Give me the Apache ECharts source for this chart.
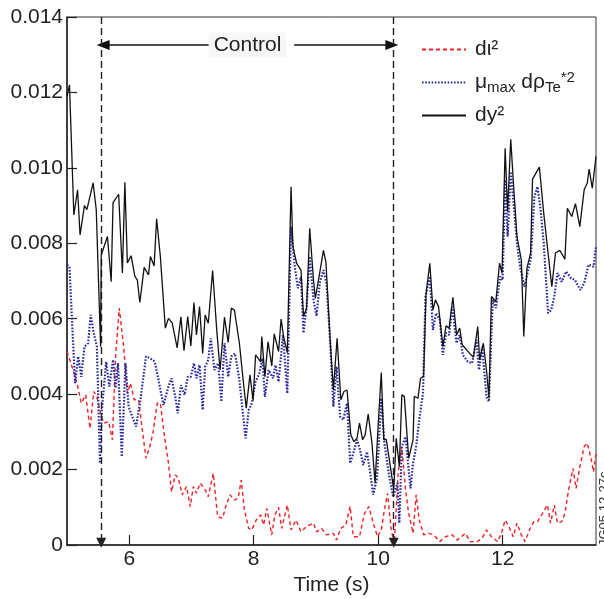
<!DOCTYPE html>
<html><head><meta charset="utf-8">
<script src="https://cdn.jsdelivr.net/npm/echarts@6/dist/echarts.min.js"></script>
<style>html,body{margin:0;padding:0;background:#fff}#c{width:604px;height:599px}</style>
</head><body><div id="c"></div>
<script>
// ---- data ----
const xTicks = [6, 8, 10, 12];
const yTicks = [0, 0.002, 0.004, 0.006, 0.008, 0.010, 0.012, 0.014];
const controlStart = 5.55, controlEnd = 10.25;
const controlLabel = 'Control';
const controlY = 0.01326;

const dyT = [5.00,5.04,5.11,5.17,5.21,5.28,5.32,5.42,5.47,5.54,5.55,5.65,5.71,5.74,5.83,5.89,5.93,5.97,6.03,6.09,6.13,6.17,6.24,6.31,6.34,6.40,6.44,6.50,6.58,6.63,6.69,6.77,6.83,6.88,6.94,6.99,7.04,7.08,7.13,7.18,7.22,7.27,7.34,7.41,7.46,7.53,7.59,7.64,7.69,7.77,7.83,7.88,7.94,7.99,8.03,8.11,8.13,8.18,8.23,8.29,8.33,8.40,8.44,8.48,8.54,8.60,8.63,8.69,8.76,8.80,8.85,8.90,8.96,8.99,9.06,9.12,9.16,9.23,9.28,9.34,9.40,9.45,9.50,9.56,9.61,9.66,9.70,9.75,9.79,9.84,9.90,9.95,10.00,10.05,10.09,10.13,10.20,10.25,10.29,10.34,10.38,10.42,10.49,10.56,10.58,10.64,10.68,10.73,10.77,10.83,10.88,10.92,10.97,11.04,11.09,11.14,11.20,11.26,11.31,11.35,11.47,11.53,11.60,11.63,11.69,11.74,11.78,11.82,11.89,11.95,11.99,12.04,12.08,12.13,12.18,12.23,12.30,12.34,12.39,12.45,12.48,12.59,12.66,12.73,12.79,12.85,12.92,13.00,13.04,13.11,13.17,13.24,13.31,13.36,13.39,13.44,13.50];
const dyV = [0.0119,0.0122,0.00875,0.00942,0.00822,0.0090,0.00889,0.0096,0.00889,0.00526,0.00769,0.00818,0.00698,0.00908,0.0093,0.00721,0.00962,0.00748,0.00767,0.00712,0.00703,0.00643,0.00736,0.00716,0.00765,0.0074,0.00865,0.00765,0.00575,0.00601,0.00589,0.00523,0.00605,0.00515,0.00606,0.00528,0.00643,0.00557,0.00632,0.00508,0.0061,0.00588,0.00728,0.00561,0.00464,0.00604,0.00537,0.00628,0.00623,0.00535,0.00438,0.00363,0.00451,0.00383,0.00504,0.00486,0.00553,0.00446,0.00539,0.00475,0.0056,0.00513,0.00599,0.00553,0.0051,0.0095,0.00791,0.00747,0.00729,0.00606,0.00628,0.0084,0.00703,0.00654,0.00721,0.00781,0.00751,0.00539,0.00411,0.00548,0.00385,0.00407,0.00411,0.00292,0.00274,0.00283,0.00323,0.00279,0.00292,0.00347,0.0027,0.00164,0.00318,0.00457,0.00279,0.0028,0.00203,0.00146,0.00283,0.00208,0.00398,0.00394,0.0023,0.00279,0.00394,0.00389,0.00442,0.00447,0.00668,0.00747,0.00623,0.0065,0.00632,0.00526,0.00581,0.00575,0.00657,0.00557,0.00575,0.00531,0.00508,0.00498,0.00579,0.00491,0.00535,0.00464,0.00389,0.00659,0.00645,0.00747,0.00721,0.01052,0.00884,0.01076,0.00942,0.00818,0.00756,0.00553,0.00734,0.00774,0.0097,0.01002,0.0088,0.00774,0.00685,0.00775,0.00781,0.00758,0.00893,0.00871,0.00905,0.00844,0.00942,0.0096,0.00997,0.00946,0.0103];

const rhoT = [5.00,5.04,5.08,5.13,5.18,5.23,5.28,5.34,5.38,5.43,5.48,5.53,5.56,5.63,5.68,5.74,5.78,5.82,5.88,5.94,5.99,6.05,6.11,6.18,6.27,6.34,6.41,6.47,6.55,6.63,6.68,6.74,6.78,6.83,6.89,6.94,6.99,7.04,7.08,7.13,7.18,7.22,7.27,7.31,7.37,7.43,7.48,7.53,7.59,7.64,7.70,7.77,7.82,7.87,7.92,7.97,8.03,8.09,8.14,8.18,8.24,8.31,8.35,8.40,8.47,8.54,8.60,8.66,8.71,8.76,8.80,8.85,8.90,8.96,9.01,9.06,9.12,9.17,9.23,9.28,9.33,9.39,9.44,9.50,9.55,9.60,9.66,9.71,9.76,9.82,9.87,9.92,9.98,10.05,10.10,10.17,10.24,10.31,10.34,10.38,10.44,10.48,10.52,10.56,10.61,10.66,10.72,10.76,10.83,10.88,10.93,10.99,11.04,11.09,11.14,11.19,11.26,11.31,11.36,11.44,11.51,11.58,11.62,11.67,11.74,11.78,11.84,11.89,11.96,12.00,12.04,12.08,12.13,12.18,12.23,12.28,12.35,12.40,12.45,12.51,12.56,12.61,12.66,12.73,12.78,12.83,12.88,12.95,13.02,13.10,13.16,13.25,13.31,13.38,13.46,13.50];
const rhoV = [0.00743,0.00738,0.00597,0.00429,0.005,0.00446,0.00526,0.00535,0.0061,0.00562,0.00526,0.00217,0.00358,0.00486,0.0042,0.00491,0.00416,0.00482,0.00234,0.00482,0.00367,0.0034,0.00314,0.00385,0.005,0.00495,0.00486,0.00438,0.00371,0.0042,0.00442,0.00393,0.00349,0.00424,0.00398,0.00446,0.00446,0.00482,0.00442,0.00477,0.00358,0.00473,0.00491,0.00548,0.00464,0.00482,0.0038,0.00535,0.00446,0.005,0.00508,0.00438,0.00358,0.00283,0.00358,0.00376,0.00433,0.00455,0.00495,0.00393,0.00464,0.00442,0.00477,0.00433,0.00557,0.00402,0.00844,0.00738,0.00681,0.00712,0.00562,0.00632,0.00765,0.0065,0.00607,0.00694,0.00729,0.00694,0.00535,0.00367,0.00473,0.0034,0.00332,0.00376,0.00217,0.00243,0.00279,0.00252,0.00212,0.00247,0.00194,0.00133,0.00177,0.00389,0.0027,0.0019,0.00128,0.00164,0.00058,0.00261,0.00287,0.00217,0.0015,0.00217,0.00261,0.00332,0.00402,0.00659,0.00712,0.0057,0.00615,0.00597,0.00504,0.00562,0.00557,0.00632,0.00535,0.00557,0.00504,0.00486,0.00482,0.00544,0.00464,0.00526,0.00393,0.0038,0.0065,0.00628,0.00712,0.00703,0.00968,0.00818,0.0099,0.00897,0.008,0.00738,0.00685,0.00721,0.00756,0.00924,0.0095,0.00889,0.008,0.00615,0.00623,0.00659,0.00721,0.00698,0.00725,0.00707,0.00703,0.00676,0.00694,0.00743,0.00738,0.00791];

const iotaT = [5.00,5.08,5.16,5.23,5.30,5.37,5.43,5.48,5.54,5.59,5.67,5.73,5.78,5.84,5.91,5.97,6.02,6.08,6.15,6.21,6.27,6.33,6.38,6.45,6.50,6.56,6.63,6.68,6.74,6.79,6.85,6.92,6.98,7.03,7.08,7.14,7.21,7.27,7.35,7.42,7.50,7.55,7.62,7.69,7.75,7.80,7.85,7.92,7.97,8.04,8.11,8.16,8.21,8.29,8.34,8.40,8.45,8.54,8.60,8.68,8.76,8.85,8.96,9.01,9.09,9.17,9.28,9.33,9.40,9.48,9.55,9.60,9.70,9.78,9.85,9.92,9.99,10.05,10.10,10.15,10.21,10.26,10.32,10.38,10.44,10.49,10.56,10.61,10.66,10.73,10.81,10.89,10.99,11.08,11.19,11.27,11.40,11.48,11.59,11.67,11.74,11.82,11.92,11.98,12.04,12.10,12.17,12.23,12.30,12.36,12.43,12.50,12.56,12.64,12.72,12.77,12.83,12.88,12.95,13.00,13.06,13.13,13.18,13.24,13.31,13.36,13.42,13.46,13.50];
const iotaV = [0.00513,0.00473,0.00429,0.00376,0.00398,0.00309,0.00407,0.00393,0.00349,0.00323,0.00327,0.00279,0.005,0.00628,0.00526,0.00402,0.00429,0.00385,0.00385,0.00305,0.0023,0.00261,0.00296,0.00376,0.00376,0.00296,0.00217,0.00141,0.00186,0.00177,0.00133,0.00155,0.00102,0.00155,0.00137,0.00164,0.0015,0.00128,0.0019,0.00075,0.00071,0.00102,0.00133,0.00119,0.00124,0.00172,0.00093,0.00044,0.0004,0.00066,0.0008,0.00053,0.00097,0.00027,0.0008,0.001,0.00044,0.00106,0.0004,0.00066,0.00035,0.00049,0.00058,0.00035,0.00044,0.00027,0.00031,0.00013,0.00044,0.00053,0.00102,0.00022,0.00022,0.00084,0.00102,0.00058,0.00022,0.0004,0.00093,0.00137,0.0004,0.00004,0.0019,0.00261,0.00146,0.00084,0.00031,0.00133,0.00066,0.00027,0.00031,0.00027,0.00009,0.00022,0.00027,0.00013,0.00031,0.00009,0.00009,0.00018,0.0004,0.00022,0.00009,0.00031,0.00066,0.00049,0.00022,0.00058,0.00027,0.00009,0.0004,0.00062,0.00062,0.00084,0.00106,0.00058,0.00106,0.00058,0.00062,0.00084,0.00146,0.00203,0.0015,0.00207,0.00261,0.0027,0.0023,0.00194,0.00243];

const names = ['dι²', 'μmax dρTe*2', 'dy²'];

// ---- chart ----
const FONT = 'Liberation Sans';
const FS = 21;
const pairs = (t, v) => t.map((x, i) => [x, v[i]]);
const chart = echarts.init(document.getElementById('c'), null, {renderer: 'canvas'});
chart.setOption({
  animation: false,
  backgroundColor: '#fff',
  grid: {left: 67, right: 8, top: 17, bottom: 54, show: true, borderColor: '#333', borderWidth: 1, outerBoundsMode: 'none'},
  xAxis: {
    type: 'value', min: 5, max: 13.5,
    name: 'Time (s)', nameLocation: 'middle', nameGap: 26,
    nameTextStyle: {fontSize: FS, color: '#222', fontFamily: FONT},
    axisLine: {lineStyle: {color: '#222', width: 1.5}},
    axisTick: {inside: true, length: 10, customValues: xTicks, lineStyle: {color: '#222', width: 1.2}},
    axisLabel: {customValues: xTicks, fontSize: FS, color: '#222', fontFamily: FONT, margin: 4},
    splitLine: {show: false}
  },
  yAxis: {
    type: 'value', min: 0, max: 0.014, interval: 0.002,
    axisLine: {lineStyle: {color: '#222', width: 1.5}},
    axisTick: {inside: true, length: 10, lineStyle: {color: '#222', width: 1.2}},
    axisLabel: {fontSize: FS, color: '#222', fontFamily: FONT, margin: 4,
      formatter: v => v === 0 ? '0' : v.toFixed(3)},
    splitLine: {show: false}
  },
  legend: {
    orient: 'vertical', left: 416, top: 34, itemWidth: 44, itemHeight: 12, itemGap: 10,
    data: names,
    itemStyle: {opacity: 0},
    textStyle: {fontSize: FS, color: '#222', fontFamily: FONT, padding: [0, 0, 0, 4],
      rich: {
        a: {fontSize: FS, color: '#222', fontFamily: FONT},
        sub: {fontSize: 15, color: '#222', fontFamily: FONT, padding: [10, 0, 0, 0]},
        sup: {fontSize: 15, color: '#222', fontFamily: FONT, padding: [0, 0, 10, 0]}
      }},
    formatter: n => n === names[1] ? '{a|μ}{sub|max}{a| dρ}{sub|Te}{sup|*2}' : n
  },
  graphic: [{
    type: 'text', x: 604, y: 546, rotation: Math.PI / 2,
    style: {text: 'JG05.12-27c', fontSize: 13, fill: '#333', fontFamily: FONT, align: 'left', verticalAlign: 'middle'}
  }],
  series: [
    {
      name: names[0], type: 'line', data: pairs(iotaT, iotaV), symbol: 'none', z: 3,
      lineStyle: {color: '#ee2228', width: 1.4, type: [4, 3]},
      itemStyle: {color: '#ee2228'},
      markLine: {
        silent: true, symbol: ['none', 'triangle'], symbolSize: [10, 13],
        lineStyle: {color: '#111', width: 1.5, type: 'solid'},
        label: {show: false},
        data: [
          [{coord: [7.36, controlY]}, {coord: [controlStart + 0.03, controlY]}],
          [{coord: [8.65, controlY]}, {coord: [controlEnd - 0.03, controlY]}]
        ]
      }
    },
    {
      name: names[1], type: 'line', data: pairs(rhoT, rhoV), symbol: 'none', z: 4,
      lineStyle: {color: '#2a2a9c', width: 2.2, type: [1.6, 1.6]},
      itemStyle: {color: '#2a2a9c'},
      markPoint: {
        silent: true,
        data: [{coord: [7.9, controlY], symbol: 'rect', symbolSize: 1, itemStyle: {color: 'rgba(0,0,0,0)'},
          label: {show: true, position: 'inside', formatter: controlLabel, fontSize: FS, color: '#222', fontFamily: FONT,
            backgroundColor: '#f7f7f7', padding: [2, 5]}}]
      }
    },
    {
      name: names[2], type: 'line', data: pairs(dyT, dyV), symbol: 'none', z: 5,
      lineStyle: {color: '#111', width: 1.3, type: 'solid'},
      itemStyle: {color: '#111'},
      markLine: {
        silent: true, symbol: ['none', 'triangle'], symbolSize: [10, 10],
        lineStyle: {color: '#222', width: 1.4, type: [7, 4]},
        label: {show: false},
        data: [
          [{coord: [controlStart, 0.014]}, {coord: [controlStart, 0.00006]}],
          [{coord: [controlEnd, 0.014]}, {coord: [controlEnd, 0.00006]}]
        ]
      }
    }
  ]
});
</script>
</body></html>
